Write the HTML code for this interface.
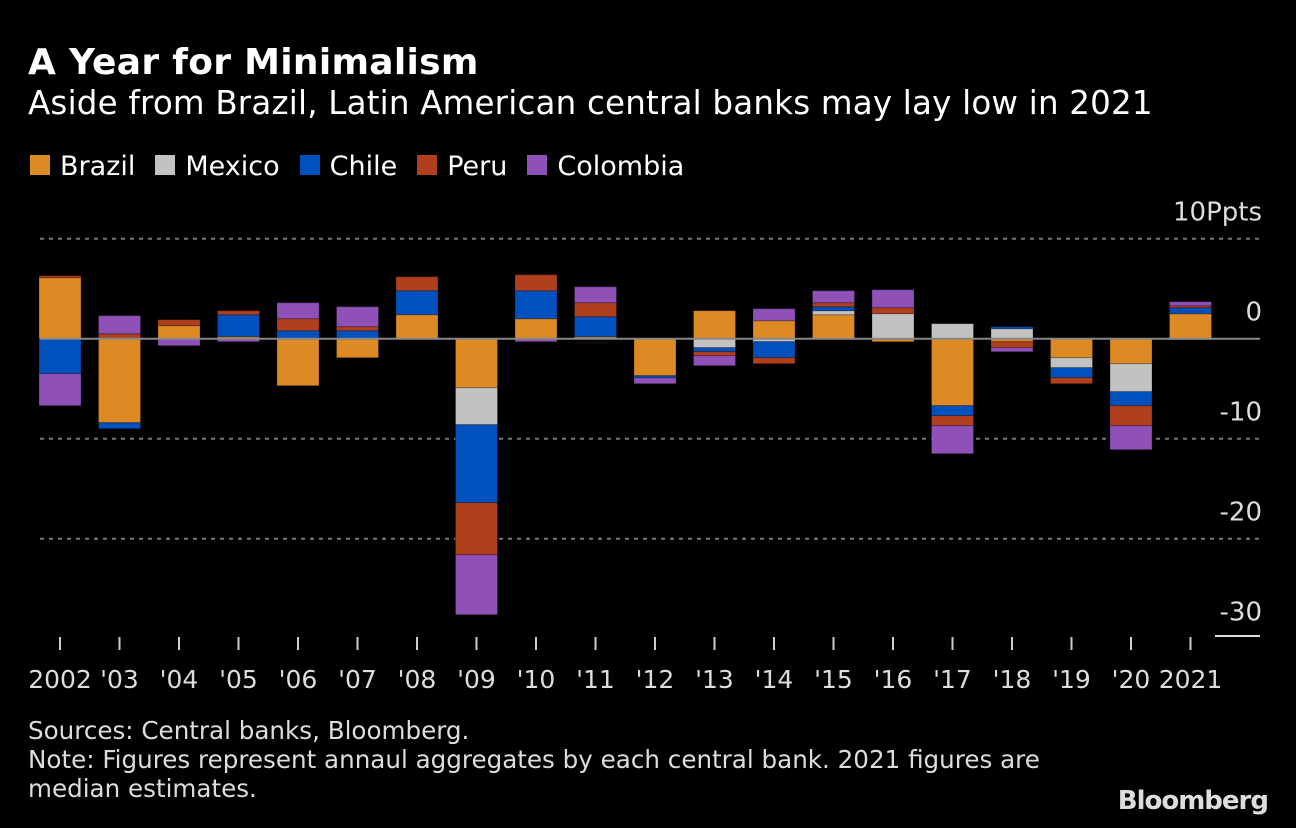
<!DOCTYPE html>
<html><head><meta charset="utf-8"><style>
body{margin:0;background:#000;width:1296px;height:828px;overflow:hidden;font-family:"DejaVu Sans",sans-serif;color:#fff}
.t{position:absolute;white-space:nowrap}
</style></head><body>
<div class="t" style="left:28px;top:42px;font-size:36px;font-weight:bold;letter-spacing:0.3px">A Year for Minimalism</div>
<div class="t" style="left:28px;top:84px;font-size:32.5px;letter-spacing:0.2px">Aside from Brazil, Latin American central banks may lay low in 2021</div>
<div class="t" style="left:30px;top:151px;font-size:27px;display:flex;gap:0">
<span style="margin-right:20px"><span style="display:inline-block;width:20px;height:20px;background:#dd8a25;margin-right:10px"></span>Brazil</span>
<span style="margin-right:20px"><span style="display:inline-block;width:20px;height:20px;background:#c2c2c2;margin-right:10px"></span>Mexico</span>
<span style="margin-right:20px"><span style="display:inline-block;width:20px;height:20px;background:#0050bd;margin-right:10px"></span>Chile</span>
<span style="margin-right:20px"><span style="display:inline-block;width:20px;height:20px;background:#b03f1e;margin-right:10px"></span>Peru</span>
<span><span style="display:inline-block;width:20px;height:20px;background:#8f50b8;margin-right:10px"></span>Colombia</span>
</div>
<svg id="c" width="1296" height="828" style="position:absolute;left:0;top:0;font-family:'DejaVu Sans',sans-serif"></svg>
<div class="t" style="left:28px;top:716px;font-size:24.6px;line-height:29px;color:#ddd">Sources: Central banks, Bloomberg.<br>Note: Figures represent annaul aggregates by each central bank. 2021 figures are<br>median estimates.</div>
<div class="t" style="right:28px;top:786px;font-size:26px;font-weight:bold;color:#ddd;letter-spacing:-1px">Bloomberg</div>
<script>
const years=["2002","'03","'04","'05","'06","'07","'08","'09","'10","'11","'12","'13","'14","'15","'16","'17","'18","'19","'20","2021"];
const brazil=[6.1,-8.4,1.3,0.2,-4.7,-1.9,2.4,-4.9,2.0,0.2,-3.7,2.8,1.8,2.4,-0.3,-6.7,-0.3,-1.9,-2.5,2.5];
const mexico=[0,0,0,0,0,0,0,-3.7,0,0,0,-0.9,-0.3,0.4,2.5,1.5,1.0,-1.0,-2.8,-0.1];
const chile=[-3.5,-0.6,0,2.2,0.8,0.8,2.4,-7.8,2.8,2.0,-0.2,-0.4,-1.6,0.4,0,-1.0,0.2,-1.0,-1.4,0.6];
const peru=[0.2,0.5,0.6,0.4,1.2,0.4,1.4,-5.2,1.6,1.4,0,-0.4,-0.6,0.4,0.6,-1.0,-0.6,-0.6,-2.0,0.2];
const colombia=[-3.2,1.8,-0.7,-0.3,1.6,2.0,0,-6.0,-0.3,1.6,-0.6,-1.0,1.2,1.2,1.8,-2.8,-0.4,0,-2.4,0.4];
const yTicks=[10,0,-10,-20,-30];
const series=[["brazil",brazil,"#dd8a25"],["mexico",mexico,"#c2c2c2"],["chile",chile,"#0050bd"],["peru",peru,"#b03f1e"],["colombia",colombia,"#8f50b8"]];
const NS="http://www.w3.org/2000/svg",svg=document.getElementById('c');
const y=v=>338.7-v*10;
const x=i=>60+i*59.5;
function mk(t,a,p){const e=document.createElementNS(NS,t);for(const k in a)e.setAttribute(k,a[k]);(p||svg).appendChild(e);return e;}
yTicks.forEach(v=>{
  if(v!==0&&v!==-30){const g=mk('line',{x1:40,x2:1260,y1:y(v),y2:y(v),stroke:'#777','stroke-width':2,'stroke-dasharray':'4,5'});
  
  }
  const t=mk('text',{x:1262,y:y(v)-18,'text-anchor':'end',fill:'#ddd','font-size':26});
  t.textContent=v===10?'10Ppts':String(v);
  
  
});
const bl=mk('line',{x1:1215,x2:1260,y1:636,y2:636,stroke:'#ddd','stroke-width':2});


years.forEach((yr,i)=>{
  let pos=0,neg=0;
  series.forEach(([n,arr,col])=>{
    const v=arr[i];if(!v)return;
    let top,bot;
    if(v>0){top=y(pos+v);bot=y(pos);pos+=v;}else{top=y(neg);bot=y(neg+v);neg+=v;}
    const r=mk('rect',{x:x(i)-21,y:top,width:42,height:bot-top,fill:col,stroke:'rgba(0,0,0,0.25)','stroke-width':1});
    
    
  });
  const tk=mk('line',{x1:x(i),x2:x(i),y1:637,y2:650,stroke:'#ccc','stroke-width':2});
  
  
  const tl=mk('text',{x:x(i),y:688,'text-anchor':'middle',fill:'#ddd','font-size':25});
  tl.textContent=yr;
  
  
});
const z=mk('line',{x1:40,x2:1260,y1:y(0),y2:y(0),stroke:'#888','stroke-width':2});


</script>
</body></html>
